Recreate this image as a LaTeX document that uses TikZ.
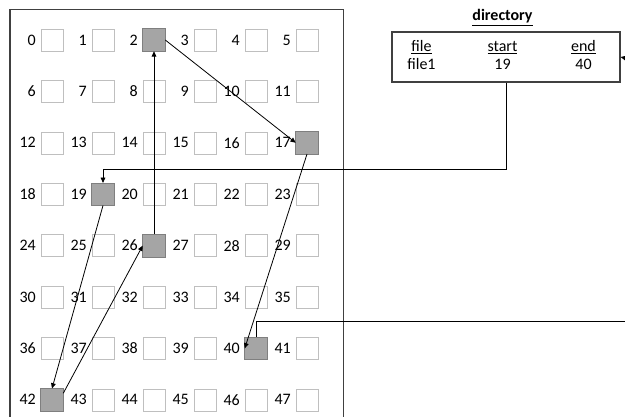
\documentclass[tikz,border=0pt]{standalone}
\usepackage{fontspec}
\setmainfont{Carlito}
\usetikzlibrary{positioning,arrows.meta}

\definecolor{blkline}{HTML}{BFBFBF}
\definecolor{usedfill}{HTML}{A5A5A5}
\definecolor{usedline}{HTML}{7F7F7F}
\definecolor{frameline}{HTML}{404040}

\tikzset{
  blk/.style={draw=blkline, fill=white, minimum size=16.5pt, inner sep=0pt},
  lbl/.style={inner sep=0pt, font=\fontsize{12}{14}\selectfont},
  used/.style={draw=usedline, fill=usedfill},
  link/.style={-{Triangle[length=4pt,width=3.5pt]}, line width=0.6pt},
}

\begin{document}
\begin{tikzpicture}[x=0.75pt, y=-0.75pt]
\useasboundingbox (0,0) rectangle (625,417);

% -----------------------------
% Disk (open at the bottom)
% -----------------------------
\draw[frameline, line width=0.9pt] (10,417) -- (10,9.5) -- (343.5,9.5) -- (343.5,417);

% blocks 0..47, six per row
\foreach \n in {0,...,47} {
    \pgfmathtruncatemacro{\r}{div(\n,6)}
    \pgfmathtruncatemacro{\c}{mod(\n,6)}
    \node[blk] (b\n) at ({52+51*\c},{40+51.4*\r}) {};
    \node[lbl, left=3.5pt of b\n] (l\n) {\n};
}
% blocks of file1
\foreach \n in {2,17,19,26,40,42}
    \draw[used] (b\n.south west) rectangle (b\n.north east);

% -----------------------------
% Directory
% -----------------------------
\node[lbl, anchor=base] (title) at (502.5,20.5) {\textbf{\underline{directory}}};
\node[draw=frameline, line width=0.8pt, minimum width=171pt, minimum height=37.5pt, inner sep=0pt] (dir) at (506,57) {};
\node[lbl, anchor=base] (hfile)  at (421.5,51.5) {\underline{file}};
\node[lbl, anchor=base] (hstart) at (502.5,51.5) {\underline{start}};
\node[lbl, anchor=base] (hend)   at (583.5,51.5) {\underline{end}};
\node[lbl, anchor=base] (vfile)  at (421.5,70) {file1};
\node[lbl, anchor=base] (vstart) at (502.5,70) {19};
\node[lbl, anchor=base] (vend)   at (583.5,70) {40};

% -----------------------------
% Links between blocks
% -----------------------------
\coordinate (dirin) at (625,58);
\coordinate (next40) at (625,321.5);
\draw[link] (dirin) -- (dir.east);
\draw[link] (dir.south) |- ([yshift=10pt]b19.north) -- (b19.north);
\draw[link] (b19.south) -- (b42.north);
\draw[link] (b42.30) -- (b26.west);
\draw[link] (b26.north) -- (b2.south);
\draw[link] (b2.east) -- (b17.west);
\draw[link] (b17.south) -- (b40.west);
\draw[line width=0.6pt] (b40.north) |- (next40);

\end{tikzpicture}
\end{document}
